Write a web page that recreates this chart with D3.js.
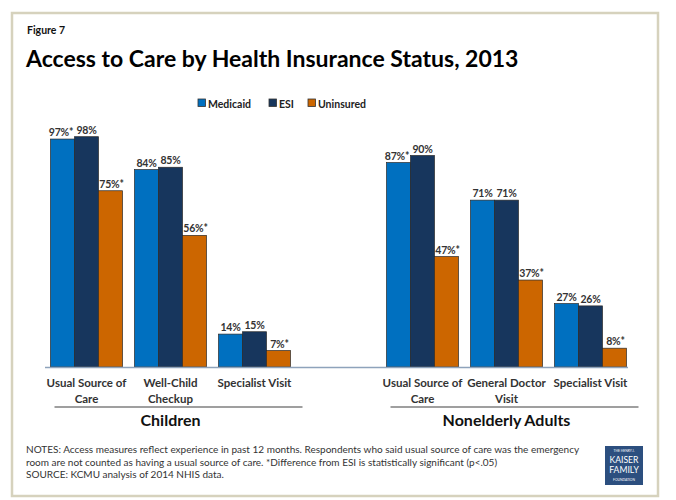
<!DOCTYPE html>
<html><head><meta charset="utf-8">
<script src="https://cdn.jsdelivr.net/npm/d3@7"></script>
<style>body{margin:0;background:#fff;} svg{display:block;} text{font-family:Lato,"Open Sans",sans-serif;}</style>
</head><body>
<script>
const groups = ["Children", "Nonelderly Adults"];
const categories = ["c1", "c2", "c3", "gap", "a1", "a2", "a3"];
const categoryGroup = ["Children", "Children", "Children", null, "Nonelderly Adults", "Nonelderly Adults", "Nonelderly Adults"];
const categoryLabels = [["Usual Source of", "Care"], ["Well-Child", "Checkup"], ["Specialist Visit"], null, ["Usual Source of", "Care"], ["General Doctor", "Visit"], ["Specialist Visit"]];
const series = ["Medicaid", "ESI", "Uninsured"];
const medicaid = [97, 84, 14, null, 87, 71, 27];
const esi = [98, 85, 15, null, 90, 71, 26];
const uninsured = [75, 56, 7, null, 47, 37, 8];
const medicaidSig = [true, false, false, null, true, false, false];
const esiSig = [false, false, false, null, false, false, false];
const uninsuredSig = [true, true, true, null, true, true, true];
const colors = ["#0070c0", "#17365d", "#cc6600"];
const notes = [
  "NOTES: Access measures reflect experience in past 12 months. Respondents who said usual source of care was the emergency",
  "room are not counted as having a usual source of care. *Difference from ESI is statistically significant (p<.05)",
  "SOURCE: KCMU analysis of 2014 NHIS  data."
];

const W = 676, H = 500;
const svg = d3.select("body").append("svg").attr("width", W).attr("height", H);
svg.append("rect").attr("width", W).attr("height", H).attr("fill", "#fff");
svg.append("rect").attr("x", 12).attr("y", 13).attr("width", 646).attr("height", 483)
  .attr("fill", "#fff").attr("stroke", "#d6d2bd").attr("stroke-width", 2.5);

svg.append("text").attr("x", 27).attr("y", 34).attr("font-size", 10.5).attr("font-weight", 700).attr("fill", "#111").text("Figure 7");
svg.append("text").attr("x", 26).attr("y", 67).attr("font-size", 23).attr("font-weight", 700).attr("fill", "#000")
  .text("Access to Care by Health Insurance Status, 2013");

// legend
const legX = [198, 269, 308];
series.forEach((s, i) => {
  svg.append("rect").attr("x", legX[i]).attr("y", 99).attr("width", 7.5).attr("height", 7.5)
    .attr("fill", colors[i]).attr("stroke", "#333").attr("stroke-width", 0.8);
  svg.append("text").attr("x", legX[i] + 10).attr("y", 107.5).attr("font-size", 10.5).attr("font-weight", 700)
    .attr("fill", "#222").text(s);
});

const x0 = d3.scaleBand().domain(categories).range([44.5, 632.5]).padding(0);
const x1 = d3.scaleBand().domain(series).range([6, 78]).padding(0);
const y = d3.scaleLinear().domain([0, 100]).range([367, 132]);

const vals = [medicaid, esi, uninsured];
const sigs = [medicaidSig, esiSig, uninsuredSig];
const data = [];
categories.forEach((c, ci) => {
  if (c === "gap") return;
  series.forEach((s, si) => data.push({c, s, si, v: vals[si][ci], sig: sigs[si][ci]}));
});

const g = svg.append("g");
g.selectAll("rect.bar").data(data).enter().append("rect").attr("class", "bar")
  .attr("x", d => x0(d.c) + x1(d.s)).attr("width", x1.bandwidth())
  .attr("y", d => y(d.v)).attr("height", d => y(0) - y(d.v))
  .attr("fill", d => colors[d.si]).attr("stroke", "#2a2a2a").attr("stroke-width", 0.7);

g.selectAll("text.val").data(data).enter().append("text").attr("class", "val")
  .attr("x", d => x0(d.c) + x1(d.s) + x1.bandwidth() / 2 + (d.sig && d.si === 0 ? -1.5 : d.sig ? 1 : 0))
  .attr("y", d => y(d.v) - 3)
  .attr("text-anchor", "middle").attr("font-size", 10.5).attr("font-weight", 700).attr("fill", "#333")
  .attr("letter-spacing", -0.2)
  .text(d => d.v + "%" + (d.sig ? "*" : ""));

// baseline
svg.append("line").attr("x1", 45).attr("x2", 628).attr("y1", y(0) + 0.5).attr("y2", y(0) + 0.5)
  .attr("stroke", "#8ea3bb").attr("stroke-width", 1.5);

// category labels
categories.forEach((c, ci) => {
  if (!categoryLabels[ci]) return;
  const cx = x0(c) + x0.bandwidth() / 2;
  const t = svg.append("text").attr("text-anchor", "middle").attr("font-size", 11.5).attr("font-weight", 700).attr("fill", "#333");
  categoryLabels[ci].forEach((line, li) => {
    t.append("tspan").attr("x", cx).attr("y", 387 + li * 15.5).text(line);
  });
});

// group labels & underlines
groups.forEach(gr => {
  const idx = categories.filter((c, i) => categoryGroup[i] === gr);
  const left = x0(idx[0]) + 10, right = x0(idx[idx.length - 1]) + x0.bandwidth() + 6;
  const cx = (x0(idx[0]) + x0(idx[idx.length - 1]) + x0.bandwidth()) / 2;
  svg.append("line").attr("x1", left).attr("x2", right).attr("y1", 407).attr("y2", 407)
    .attr("stroke", "#7f7f7f").attr("stroke-width", 1.5);
  svg.append("text").attr("x", cx).attr("y", 426).attr("text-anchor", "middle").attr("font-size", 16)
    .attr("font-weight", 700).attr("fill", "#111").text(gr);
});

// notes
notes.forEach((n, i) => {
  svg.append("text").attr("x", 26).attr("y", 453 + i * 12.5).attr("font-size", 10).attr("fill", "#333").text(n);
});

// logo
const lg = svg.append("g").attr("transform", "translate(605,446)");
lg.append("rect").attr("width", 38).attr("height", 39).attr("fill", "#2c4f7f");
const lt = [["THE HENRY J.", 6, 3.3], ["KAISER", 16.5, 8.6], ["FAMILY", 27.2, 8.6], ["FOUNDATION", 35, 3.3]];
lt.forEach(([t, yy, fs]) => lg.append("text").attr("x", 19).attr("y", yy).attr("text-anchor", "middle")
  .attr("font-size", fs).attr("font-family", "Liberation Serif, serif").attr("fill", "#fff").text(t));
</script>
</body></html>
